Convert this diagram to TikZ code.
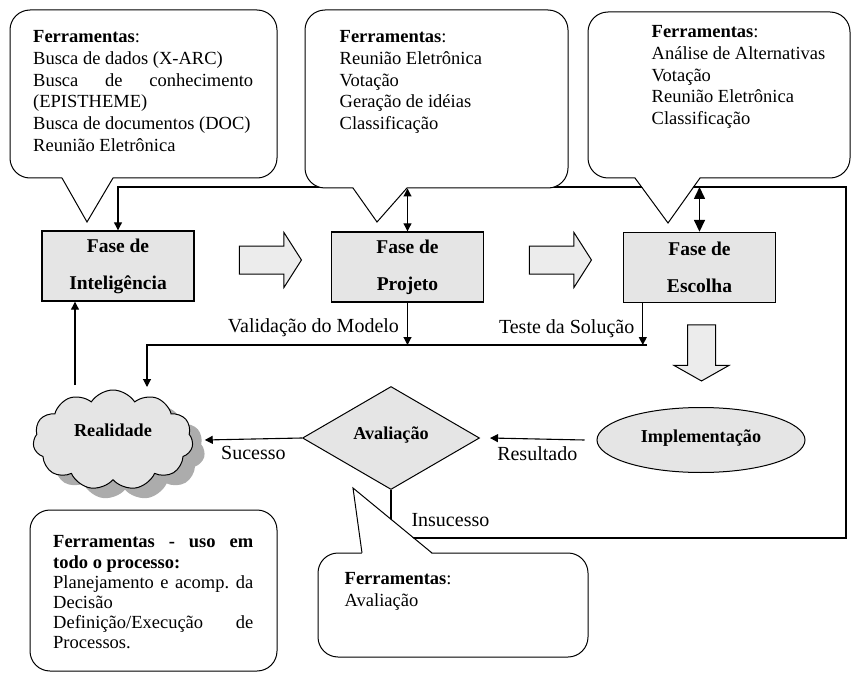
\documentclass[tikz,border=0pt]{standalone}
\usepackage{fontspec}
\setmainfont{Liberation Serif}
\usetikzlibrary{arrows.meta,shapes.geometric,shapes.symbols,shapes.arrows,shadows}

\newcommand\caixafont{\fontsize{18.5}{21.7}\selectfont\hyphenpenalty=10000\frenchspacing}
\newcommand\caixafontb{\fontsize{18.5}{20.2}\selectfont\hyphenpenalty=10000\frenchspacing}
\newcommand\fasefont{\fontsize{19.5}{37}\selectfont\bfseries}
\newcommand\formafont{\fontsize{18.2}{22}\selectfont\bfseries}
\newcommand\rotulofont{\fontsize{20}{24}\selectfont}

\begin{document}
\begin{tikzpicture}[x=1pt,y=-1pt,
fase/.style={draw,line width=1.4pt,fill=gray!20,minimum width=152pt,minimum height=70pt,align=center,font=\fasefont},
callout/.style={draw,line width=1pt,fill=white,rounded corners=20pt,inner sep=0pt},
texto/.style={anchor=north west,inner sep=0pt,align=justify,font=\caixafont},
bloco/.style={single arrow,draw,line width=1pt,fill=gray!15,inner sep=13.5pt,single arrow head extend=13.5pt},
rotulo/.style={font=\rotulofont,inner sep=2pt},
arrow/.style={-{Triangle[length=8pt,width=8pt]},line width=1.1pt},
dupla/.style={{Triangle[length=8pt,width=8pt]}-{Triangle[length=8pt,width=8pt]},line width=1.1pt},
duplagrossa/.style={{Triangle[length=12pt,width=11pt]}-{Triangle[length=12pt,width=11pt]},line width=1.6pt}]
\useasboundingbox (0,0) rectangle (852,674);

% fases
\node[fase](intel) at (118,266) {Fase de\\Inteligência};
\node[fase](proj) at (407.5,267) {Fase de\\Projeto};
\node[fase](esc) at (699.5,267.5) {Fase de\\Escolha};

\node[bloco,minimum height=62pt,single arrow tip angle=115](seta1) at (266,260) {};
\node[bloco,minimum height=62pt,single arrow tip angle=115](seta2) at (556,260) {};
\node[bloco,minimum height=56pt,single arrow tip angle=121,shape border rotate=270](seta3) at (701.5,349) {};

\node[cloud,cloud puffs=11,cloud puff arc=115,aspect=1.6,draw,line width=1pt,fill=gray!20,inner sep=0pt,
  minimum width=160pt,minimum height=100pt,font=\formafont,
  drop shadow={shadow xshift=12pt,shadow yshift=-10pt,fill=gray!65,opacity=1}](real) at (113,440)
  {\raisebox{20pt}{Realidade}};
\node[diamond,draw,line width=1pt,fill=gray!20,inner sep=0pt,minimum width=177pt,minimum height=103pt,
  font=\formafont](aval) at (391,438) {\raisebox{10pt}{Avaliação}};
\node[ellipse,draw,line width=1pt,fill=gray!20,inner sep=0pt,minimum width=208pt,minimum height=65pt,
  font=\formafont](impl) at (701,440) {\raisebox{7pt}{Implementação}};

\coordinate (fb1) at (846,538);
\coordinate (fb2) at (846,187);
\coordinate (vm) at (647,345);
\coordinate (rtop) at (147,387);
\coordinate (rsup) at (75,385);

% ligacoes
\draw[arrow] (aval.south) -- (aval.south |- fb1) node[rotulo,pos=.62,right=18pt] {Insucesso}
  -- (fb1) -- (fb2) -| (intel.north);
\draw[arrow] (proj.south) -- (proj.south |- vm) node[rotulo,pos=.6,left=6pt] {Validação do Modelo};
\draw[arrow] ([xshift=20pt]esc.south west) -- ([xshift=20pt]esc.south west |- vm)
  node[rotulo,pos=.6,left=6pt] {Teste da Solução};
\draw[arrow] (vm) -| (rtop);
\draw[arrow] (rsup) -- (rsup |- intel.south);
\draw[arrow] (aval.west) -- ([xshift=12pt]real.east) node[rotulo,midway,below=5pt] {Sucesso};
\draw[arrow] ([xshift=-12pt]impl.west) -- ([xshift=10pt]aval.east) node[rotulo,midway,below=5pt] {Resultado};

% ferramentas
\node[callout,minimum width=267pt,minimum height=168pt](c1) at (143.5,94) {};
\fill[white] (62,177) -- (87,222) -- (113,177) -- cycle;
\draw[line width=1pt] (62,178) -- (87,222) -- (113,178);
\node[texto,text width=220pt](t1) at ([xshift=23.5pt,yshift=-21pt]c1.north west)
  {\textbf{Ferramentas}:\\ Busca de dados (X-ARC)\\ Busca\hfill de\hfill conhecimento\\ (EPISTHEME)\\
   Busca de documentos (DOC)\\ Reunião Eletrônica};

\node[callout,minimum width=263pt,minimum height=178pt](c2) at (436.5,99) {};
\fill[white] (353,187) -- (377,222) -- (407,187) -- cycle;
\draw[line width=1pt] (353,188) -- (377,222) -- (407,188);
\node[texto,text width=200pt](t2) at ([xshift=35pt,yshift=-21pt]c2.north west)
  {\textbf{Ferramentas}:\\ Reunião Eletrônica\\ Votação\\ Geração de idéias\\ Classificação};

\node[callout,minimum width=262pt,minimum height=166pt](c3) at (719,95) {};
\fill[white] (635,177) -- (668,223) -- (700,177) -- cycle;
\draw[line width=1pt] (635,178) -- (668,223) -- (700,178);
\node[texto,text width=190pt](t3) at ([xshift=64pt,yshift=-14pt]c3.north west)
  {\textbf{Ferramentas}:\\ Análise de Alternativas\\ Votação\\ Reunião Eletrônica\\ Classificação};

\node[callout,minimum width=270pt,minimum height=104pt](c4) at (453,605) {};
\fill[white] (362,554) -- (353,488) -- (432,554) -- cycle;
\draw[line width=1pt] (362,553) -- (353,488) -- (432,553);
\node[texto,text width=216pt](t4) at ([xshift=27pt,yshift=-20pt]c4.north west)
  {\textbf{Ferramentas}:\\ Avaliação};

\node[callout,minimum width=247pt,minimum height=161pt](c5) at (153.5,590.5) {};
\node[texto,text width=200pt,font=\caixafontb](t5) at ([xshift=23.5pt,yshift=-26pt]c5.north west)
  {\textbf{Ferramentas - uso em todo o processo:}\\ Planejamento e acomp. da Decisão\\
   Definição/Execução de Processos.};

\draw[dupla] (proj.north |- c2.south) -- (proj.north);
\draw[duplagrossa] (esc.north |- fb2) -- (esc.north);

\end{tikzpicture}
\end{document}
